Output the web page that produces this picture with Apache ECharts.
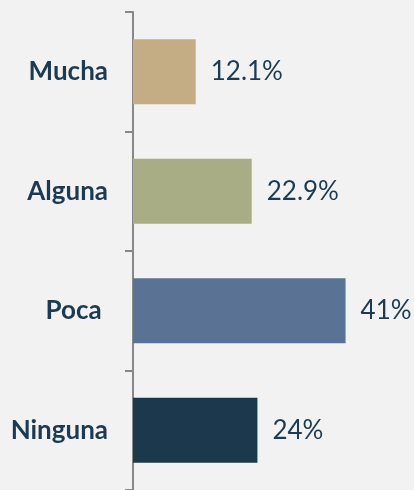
<!DOCTYPE html>
<html lang="es">
<head>
    <meta charset="UTF-8">
    <title>Nivel</title>
    <script src="https://cdn.jsdelivr.net/npm/echarts@6/dist/echarts.min.js"></script>
    <style>
        html, body { margin: 0; padding: 0; background: #f2f2f2; }
    </style>
</head>
<body>
    <div id="main" style="width: 414px;height:490px;"></div>
    <script type="text/javascript">
        // categorias (de abajo hacia arriba, como las dibuja el eje)
        var categorias = ['Ninguna', 'Poca ', 'Alguna', 'Mucha'];
        var valores = [24, 41, 22.9, 12.1];
        var colores = ['#1c384d', '#5a7394', '#a9ad85', '#c4ad85'];

        var myChart = echarts.init(document.getElementById('main'));

        var datos = valores.map(function (v, i) {
            return { value: v, itemStyle: { color: colores[i] } };
        });

        var option = {
            backgroundColor: '#f2f2f2',
            textStyle: { fontFamily: 'Lato' },
            grid: { left: 133, right: 0, top: 12, bottom: -2, containLabel: false },
            xAxis: {
                type: 'value',
                min: 0,
                max: 54.2,
                show: false
            },
            yAxis: {
                type: 'category',
                data: categorias,
                axisLine: { show: true, lineStyle: { color: '#888888', width: 2 } },
                axisTick: { show: true, length: 8, lineStyle: { color: '#888888', width: 2 } },
                axisLabel: {
                    margin: 25,
                    color: '#1c3a50',
                    fontFamily: 'Lato',
                    fontWeight: 'bold',
                    fontSize: 26
                },
                splitLine: { show: false }
            },
            series: [
                {
                    type: 'bar',
                    data: datos,
                    barWidth: 65,
                    label: {
                        show: true,
                        position: 'right',
                        distance: 15,
                        color: '#1c3a50',
                        fontFamily: 'Lato',
                        fontSize: 26,
                        formatter: function (p) { return p.value + '%'; }
                    }
                }
            ]
        };

        myChart.setOption(option);
    </script>
</body>
</html>
